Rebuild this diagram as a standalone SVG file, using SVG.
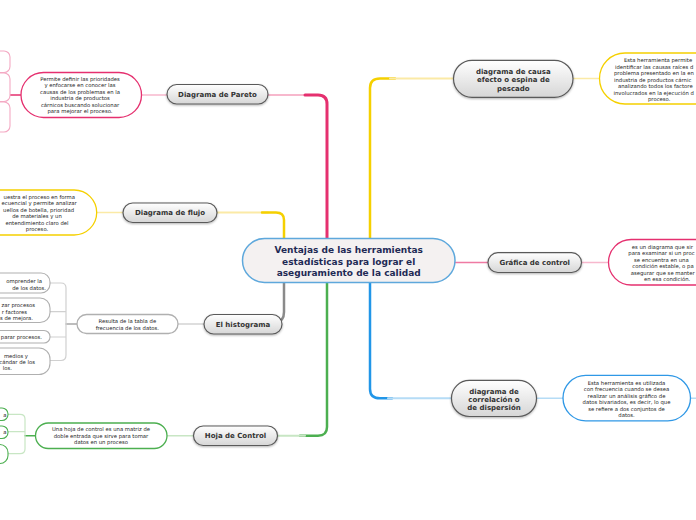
<svg xmlns="http://www.w3.org/2000/svg" width="696" height="520" viewBox="0 0 696 520">
<defs>
<linearGradient id="ng" x1="0" y1="0" x2="0" y2="1">
<stop offset="0" stop-color="#ffffff"/><stop offset="1" stop-color="#d6d6d6"/>
</linearGradient>
<filter id="sh" x="-10%" y="-20%" width="120%" height="160%">
<feDropShadow dx="0" dy="1" stdDeviation="0.8" flood-color="#000" flood-opacity="0.3"/>
</filter>
</defs>
<style>
.node rect{fill:url(#ng);stroke:#5a5a5a;stroke-width:1.2;filter:url(#sh)}
.lbl{font-family:"DejaVu Sans",Verdana,sans-serif;font-weight:bold;font-size:7px;fill:#333;text-anchor:middle}
.d{font-family:"DejaVu Sans",Verdana,sans-serif;font-size:5.3px;fill:#222}
.c{text-anchor:middle}
.e{text-anchor:end}
.desc rect{fill:#fff;stroke-width:1.3}
.kid rect{fill:#fff;stroke-width:1.1}
.conn path{fill:none;stroke-linecap:round}
</style>
<rect width="696" height="520" fill="#fff"/>

<g id="connectors" class="conn">
<path d="M268,95 H312" stroke="#f7b8cd" stroke-width="2"/>
<path d="M305,95 H318 Q327,95 327,104 V240" stroke="#e5306f" stroke-width="3"/>
<path d="M217,212.5 H268" stroke="#fbeaa6" stroke-width="2"/>
<path d="M262,212.5 H276 Q284,212.5 284,220 V240" stroke="#f5d000" stroke-width="2.5"/>
<path d="M370,240 V88 Q370,78.5 380,78.5 H395" stroke="#f5d000" stroke-width="2.5"/>
<path d="M390,78.5 H454" stroke="#fbeaa6" stroke-width="2"/>
<path d="M284,281 V312 Q284,321 276,323" stroke="#8a8a8a" stroke-width="2.5"/>
<path d="M327,281 V427 Q327,435.7 318,435.7 H300" stroke="#4caf50" stroke-width="2.5"/>
<path d="M305,435.7 H278" stroke="#c8e6c4" stroke-width="2"/>
<path d="M370,281 V389 Q370,398.3 380,398.3 H392" stroke="#2196e8" stroke-width="2.5"/>
<path d="M388,398.3 H452" stroke="#b5dcf6" stroke-width="2"/>
<path d="M455,262.5 H488" stroke="#ef7aa3" stroke-width="1.5"/>
<path d="M141,95 H167" stroke="#f7b8cd" stroke-width="1.5"/>
<path d="M97,212.5 H123" stroke="#fbeaa6" stroke-width="1.5"/>
<path d="M178,324 H204" stroke="#d4d4d4" stroke-width="1.5"/>
<path d="M167,435.7 H193" stroke="#c8e6c4" stroke-width="1.5"/>
<path d="M573,78.5 H600" stroke="#fbeaa6" stroke-width="1.5"/>
<path d="M582,262.5 H609" stroke="#f7b8cd" stroke-width="1.5"/>
<path d="M537,398.3 H563" stroke="#b5dcf6" stroke-width="1.5"/>
<path d="M690,398.3 H700" stroke="#b5dcf6" stroke-width="1.5"/>
<path d="M21,95 H10" stroke="#e5306f" stroke-width="1.5"/>
<path d="M77,324 H66" stroke="#a8a8a8" stroke-width="1.5"/>
<path d="M50,283 H61 Q66,283 66,288 V355 Q66,360.5 61,360.5 H50 M50,311.7 H66 M50,337 H66" stroke="#d0d0d0" stroke-width="1.2"/>
<path d="M35,435.7 H25" stroke="#4caf50" stroke-width="1.5"/>
<path d="M8,414.3 H20 Q25,414.3 25,419 V449 Q25,453.7 20,453.7 H8 M8,431.7 H25" stroke="#c8e6c4" stroke-width="1.2"/>
</g>

<g id="center">
<rect x="242.5" y="238.5" width="212.5" height="44" rx="22" fill="#f4f1f1" stroke="#5ea8dc" stroke-width="1.5"/>
<text x="348.7" y="253" style="font-family:'DejaVu Sans',Verdana,sans-serif;font-weight:bold;font-size:9px;fill:#1f2a55;text-anchor:middle">Ventajas de las herramientas</text>
<text x="348.7" y="264.5" style="font-family:'DejaVu Sans',Verdana,sans-serif;font-weight:bold;font-size:9px;fill:#1f2a55;text-anchor:middle">estadísticas para lograr el</text>
<text x="348.7" y="276" style="font-family:'DejaVu Sans',Verdana,sans-serif;font-weight:bold;font-size:9px;fill:#1f2a55;text-anchor:middle">aseguramiento de la calidad</text>
</g>

<g id="pareto" class="node"><rect x="167" y="84.5" width="101" height="19.5" rx="9.7"/><text class="lbl" x="217.5" y="96.7">Diagrama de Pareto</text></g>
<g id="flujo" class="node"><rect x="123" y="203" width="94" height="19.5" rx="9.7"/><text class="lbl" x="170" y="215.2">Diagrama de flujo</text></g>
<g id="histograma" class="node"><rect x="204" y="314.5" width="78" height="19.5" rx="9.7"/><text class="lbl" x="243" y="326.7">El histograma</text></g>
<g id="hoja" class="node"><rect x="193.5" y="426" width="84" height="19.5" rx="9.7"/><text class="lbl" x="235.5" y="438.2">Hoja de Control</text></g>
<g id="causa" class="node"><rect x="453.5" y="60.3" width="119.5" height="37" rx="18.5"/>
<text class="lbl" x="513.3" y="73.7">diagrama de causa</text><text class="lbl" x="513.3" y="82.2">efecto o espina de</text><text class="lbl" x="513.3" y="90.5">pescado</text></g>
<g id="grafica" class="node"><rect x="488" y="252.7" width="93.5" height="19.8" rx="9.9"/><text class="lbl" x="534.7" y="265">Gráfica de control</text></g>
<g id="correlacion" class="node"><rect x="451.5" y="380.3" width="85" height="36.2" rx="18"/>
<text class="lbl" x="494" y="393.7">diagrama de</text><text class="lbl" x="494" y="402">correlación o</text><text class="lbl" x="494" y="410.3">de dispersión</text></g>

<g id="pareto-desc" class="desc"><rect x="21" y="72.5" width="120.5" height="45" rx="22.5" stroke="#e5306f"/>
<text class="d c" x="80" y="81">Permite definir las prioridades</text>
<text class="d c" x="80" y="87.4">y enfocarse en conocer las</text>
<text class="d c" x="80" y="93.8">causas de los problemas en la</text>
<text class="d c" x="80" y="100.2">industria de productos</text>
<text class="d c" x="80" y="106.6">cárnicos buscando solucionar</text>
<text class="d c" x="80" y="113">para mejorar el proceso.</text></g>

<g id="pareto-kid1" class="kid"><rect x="-80" y="51" width="90" height="21.5" rx="6" stroke="#f4a9c3"/></g>
<g id="pareto-kid2" class="kid"><rect x="-80" y="73" width="90" height="28.5" rx="6" stroke="#f4a9c3"/></g>
<g id="pareto-kid3" class="kid"><rect x="-80" y="102" width="90" height="30" rx="6" stroke="#f4a9c3"/></g>

<g id="flujo-desc" class="desc"><rect x="-30" y="190" width="126.7" height="45" rx="22.5" stroke="#f5d000"/>
<text class="d e" x="75" y="198.7">uestra el proceso en forma</text>
<text class="d e" x="76.7" y="205.3">ecuencial y permite analizar</text>
<text class="d e" x="74" y="212">uellos de botella, prioridad</text>
<text class="d c" x="37" y="218.3">de materiales y un</text>
<text class="d c" x="37" y="225">entendimiento claro del</text>
<text class="d c" x="37" y="231.3">proceso.</text></g>

<g id="histograma-desc" class="desc"><rect x="77" y="314.5" width="101" height="19" rx="9.5" stroke="#b0b0b0"/>
<text class="d c" x="127.3" y="323">Resulta de la tabla de</text>
<text class="d c" x="127.3" y="329.7">frecuencia de los datos.</text></g>

<g id="hist-kid1" class="kid"><rect x="-60" y="273" width="110" height="20" rx="9" stroke="#b0b0b0"/>
<text class="d e" x="42" y="282.5">omprender la</text><text class="d e" x="46" y="289.5">de los datos.</text></g>
<g id="hist-kid2" class="kid"><rect x="-60" y="298" width="110" height="24.5" rx="10" stroke="#b0b0b0"/>
<text class="d e" x="35" y="307">zar procesos</text><text class="d e" x="27" y="314">r factores</text><text class="d e" x="33" y="320.3">s de mejora.</text></g>
<g id="hist-kid3" class="kid"><rect x="-60" y="330.5" width="110" height="12.5" rx="6" stroke="#b0b0b0"/>
<text class="d e" x="42" y="339">parar procesos.</text></g>
<g id="hist-kid4" class="kid"><rect x="-60" y="348" width="110" height="26.5" rx="11" stroke="#b0b0b0"/>
<text class="d e" x="28" y="357.5">medios y</text><text class="d e" x="35" y="363.7">cándar de los</text><text class="d e" x="12" y="369.7">los.</text></g>

<g id="hoja-desc" class="desc"><rect x="35.5" y="423" width="131.5" height="25.5" rx="12.7" stroke="#4caf50"/>
<text class="d c" x="101" y="431">Una hoja de control es una matriz de</text>
<text class="d c" x="101" y="437.5">doble entrada que sirve para tomar</text>
<text class="d c" x="101" y="444">datos en un proceso</text></g>

<g id="hoja-kid1" class="kid"><rect x="-40" y="408" width="48" height="12.5" rx="6" stroke="#4caf50"/><text class="d e" x="6.5" y="416.5">a</text></g>
<g id="hoja-kid2" class="kid"><rect x="-40" y="426" width="48" height="12.5" rx="6" stroke="#4caf50"/><text class="d e" x="6.5" y="434.2">a</text></g>
<g id="hoja-kid3" class="kid"><rect x="-40" y="444.5" width="48" height="19" rx="8" stroke="#4caf50"/></g>

<g id="causa-desc" class="desc"><rect x="599.5" y="53" width="130" height="51" rx="25.5" stroke="#f5d000"/>
<text class="d" x="624" y="62">Esta herramienta permite</text>
<text class="d" x="615" y="68.5">identificar las causas raíces d</text>
<text class="d" x="614" y="75">problema presentado en la en</text>
<text class="d" x="614" y="81.5">industria de productos cárnic</text>
<text class="d" x="618" y="88">analizando todos los factore</text>
<text class="d" x="613.5" y="94.5">involucrados en la ejecución d</text>
<text class="d" x="648" y="101">proceso.</text></g>

<g id="grafica-desc" class="desc"><rect x="608.5" y="239.5" width="130" height="45.5" rx="22.7" stroke="#e5306f"/>
<text class="d" x="631.7" y="248.7">es un diagrama que sir</text>
<text class="d" x="628.3" y="255.3">para examinar si un proc</text>
<text class="d" x="634" y="262">se encuentra en una</text>
<text class="d" x="632.3" y="268.3">condición estable, o pa</text>
<text class="d" x="630.7" y="274.7">asegurar que se manter</text>
<text class="d" x="644" y="281.3">en esa condición.</text></g>

<g id="correlacion-desc" class="desc"><rect x="563" y="375.3" width="127.5" height="45.5" rx="22.7" stroke="#2f98e6"/>
<text class="d c" x="626.5" y="384.5">Esta herramienta es utilizada</text>
<text class="d c" x="626.5" y="391">con frecuencia cuando se desea</text>
<text class="d c" x="626.5" y="397.5">realizar un análisis gráfico de</text>
<text class="d c" x="626.5" y="404">datos bivariados, es decir, lo que</text>
<text class="d c" x="626.5" y="410.5">se refiere a dos conjuntos de</text>
<text class="d c" x="626.5" y="417">datos.</text></g>
</svg>
